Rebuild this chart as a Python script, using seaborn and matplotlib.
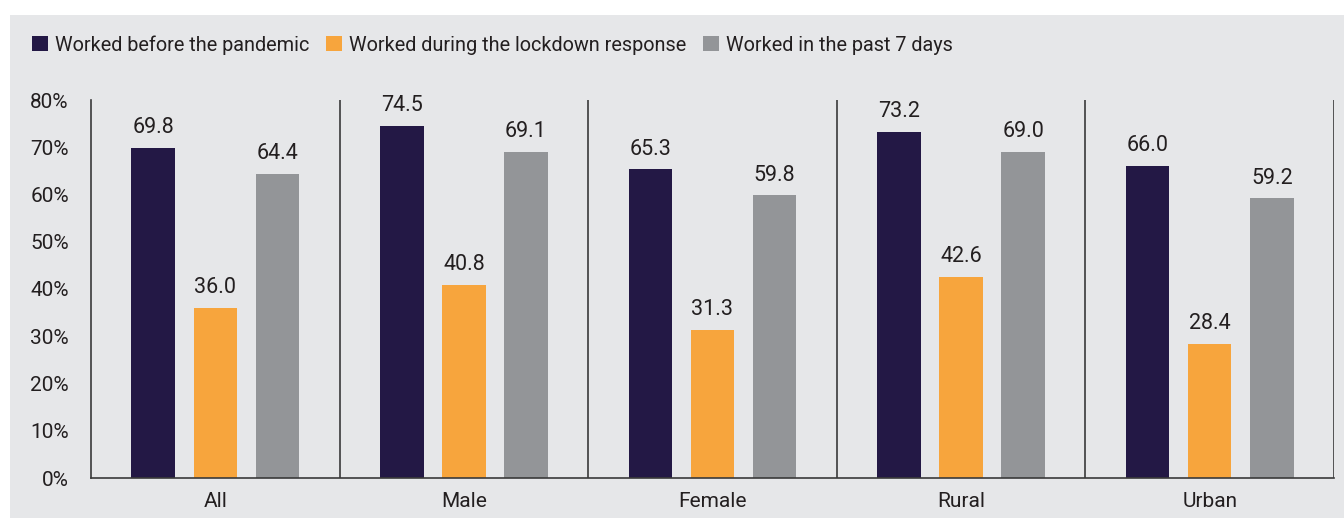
import matplotlib
matplotlib.use("Agg")
import matplotlib.pyplot as plt
from matplotlib.patches import Rectangle
import seaborn as sns
import pandas as pd

groups = ['All', 'Male', 'Female', 'Rural', 'Urban']
series = ['Worked before the pandemic', 'Worked during the lockdown response', 'Worked in the past 7 days']
before = [69.8, 74.5, 65.3, 73.2, 66.0]
lockdown = [36.0, 40.8, 31.3, 42.6, 28.4]
past7 = [64.4, 69.1, 59.8, 69.0, 59.2]
yticks = [0, 10, 20, 30, 40, 50, 60, 70, 80]

colors = ['#231845', '#f7a53d', '#939598']
bg = '#e6e7e9'
txt = '#231f20'

rows = []
for name, vals in zip(series, [before, lockdown, past7]):
    for g, v in zip(groups, vals):
        rows.append({'group': g, 'series': name, 'value': v})
df = pd.DataFrame(rows)

sns.set_style('white')
plt.rcParams['font.family'] = ['Roboto', 'DejaVu Sans']
plt.rcParams['text.color'] = txt
fs = 15

fig = plt.figure(figsize=(13.44, 5.18), dpi=100, facecolor='white')
# grey panel behind everything, leaving a thin white margin top and left
fig.patches.append(Rectangle((10 / 1344, 0), 1, 1 - 15 / 518, transform=fig.transFigure,
                             facecolor=bg, edgecolor='none', zorder=-10))
ax = fig.add_axes([91 / 1344, 40 / 518, (1334 - 91) / 1344, (478 - 100) / 518])
ax.set_facecolor(bg)

sns.barplot(data=df, x='group', y='value', hue='series', palette=colors,
            width=0.75, gap=0.3, ax=ax, legend=True, saturation=1,
            edgecolor='none', linewidth=0)

for cont in ax.containers:
    ax.bar_label(cont, fmt='%.1f', padding=7, fontsize=15.5, color=txt)

ax.set_ylim(0, 80)
ax.set_xlim(-0.5, len(groups) - 0.5)
ax.set_yticks(yticks)
ax.set_yticklabels([f'{t}%' for t in yticks])
ax.tick_params(axis='both', length=0, labelsize=fs, colors=txt)
ax.tick_params(axis='y', pad=16)
ax.tick_params(axis='x', pad=10)
ax.set_xlabel('')
ax.set_ylabel('')

for s in ['top', 'right']:
    ax.spines[s].set_visible(False)
for s in ['left', 'bottom']:
    ax.spines[s].set_color('#3a3a3a')
    ax.spines[s].set_linewidth(1.2)
# separators between groups (last one closes the right side)
for i in range(len(groups)):
    ax.axvline(i + 0.5, color='#3a3a3a', lw=1.2)

handles, labels = ax.get_legend_handles_labels()
ax.get_legend().remove()
fig.legend(handles, labels, loc='center left', bbox_to_anchor=(32 / 1344, 1 - 45 / 518),
           ncol=3, frameon=False, fontsize=14.3, handlelength=0.8, handleheight=0.8,
           handletextpad=0.35, columnspacing=0.85, borderpad=0, borderaxespad=0)

fig.savefig('out.png', dpi=100, facecolor='white')
